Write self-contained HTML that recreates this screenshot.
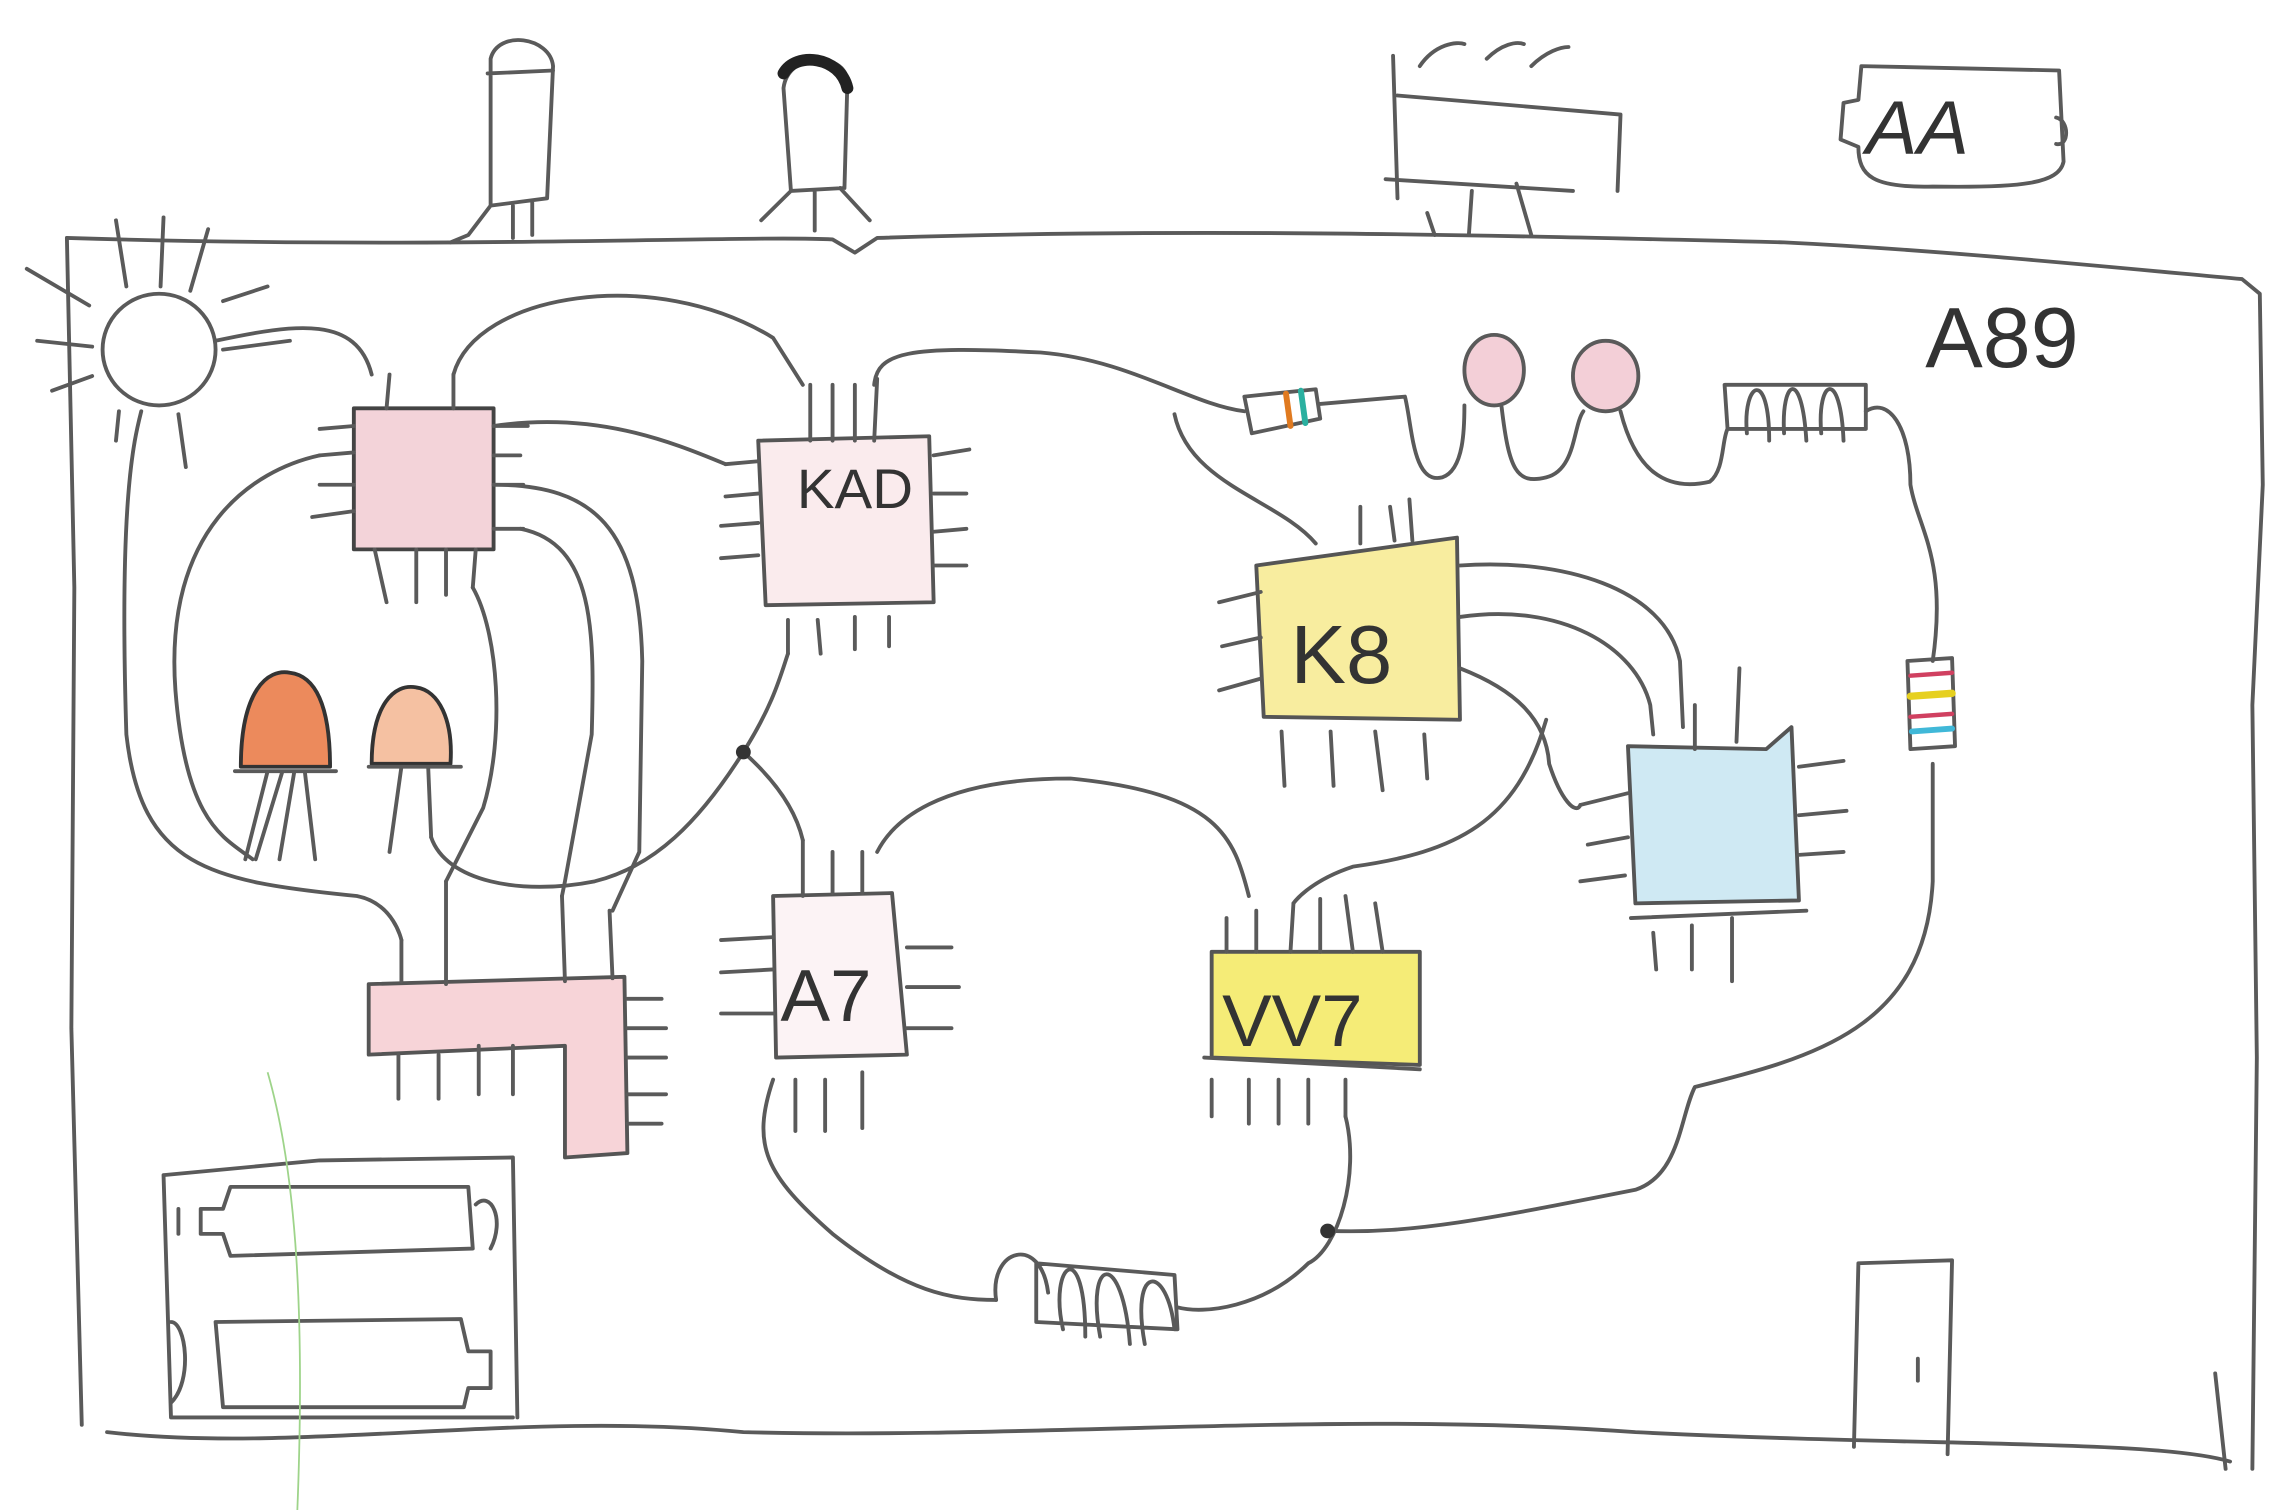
<!DOCTYPE html>
<html><head><meta charset="utf-8"><style>
html,body{margin:0;padding:0;background:#fff;width:2294px;height:1510px;overflow:hidden}
svg{display:block}
text{font-family:"Liberation Sans",sans-serif;fill:#333}
</style></head><body>
<svg width="2294" height="1510" viewBox="0 0 1543 1028" preserveAspectRatio="none" xmlns="http://www.w3.org/2000/svg">
<g fill="none" stroke="#5a5a5a" stroke-width="2.6" stroke-linecap="round" stroke-linejoin="round">
<path d="M45 162 C300 170 500 160 560 163 L575 172 L590 162 C800 155 1000 160 1200 165 C1300 170 1400 180 1508 190 L1520 200 L1522 330 L1515 480 L1518 720 L1515 1000"/>
<path d="M45 162 L50 400 L48 700 L55 970"/>
<path d="M72 975 C200 990 350 960 500 975 C700 980 900 960 1100 975 C1300 985 1450 980 1500 995"/>
<path d="M1490 935 L1497 1000"/>
<circle cx="107" cy="238" r="38"/>
<path d="M18 183 L60 208 M25 232 L62 236 M35 266 L62 256 M78 150 L85 195 M110 148 L108 195 M140 156 L128 198 M150 205 L180 195 M150 238 L195 232 M120 282 L125 318 M80 280 L78 300"/>
<path d="M330 40 C335 20 370 25 372 45 L368 135 L330 140 Z M328 50 L372 48 M330 140 L315 160 L303 165 M345 140 L345 162 M358 138 L358 160"/>
<path d="M527 60 C530 35 568 35 570 55 L568 128 L532 130 Z M532 130 L512 150 M548 130 L548 157 M565 128 L585 150"/>
<path d="M527 50 C535 35 565 38 570 60" stroke="#222" stroke-width="8"/>
<path d="M937 38 L940 135 M940 65 L1090 78 L1088 130 M932 122 L1058 130 M1020 125 L1030 160 M960 145 L965 160 M990 130 L988 160 M955 45 C965 30 980 28 985 30 M1000 40 C1010 30 1020 28 1025 30 M1030 45 C1040 35 1050 32 1055 32"/>
<path d="M1252 45 L1385 48 L1388 110 C1385 125 1360 128 1300 127 C1260 128 1250 120 1250 100 L1238 95 L1240 70 L1250 68 Z"/>
<path d="M1383 80 C1392 82 1392 100 1383 98"/>
<rect x="238" y="278" width="94" height="96" fill="#e8a8b4" fill-opacity="0.5" stroke="#444"/>
<path d="M215 292 L238 290 M215 310 L238 308 M215 330 L238 330 M210 352 L238 348 M332 290 L355 290 M332 310 L350 310 M332 330 L352 330 M332 360 L352 360 M262 255 L260 278 M305 255 L305 278 M252 374 L260 410 M280 374 L280 410 M300 374 L300 405 M320 374 L318 400"/>
<path d="M510 300 L625 297 L628 410 L515 412 Z" fill="#f5d8dc" fill-opacity="0.5" stroke="#555"/>
<path d="M488 316 L510 314 M488 338 L510 336 M485 358 L510 356 M485 380 L510 378 M628 310 L652 306 M628 336 L650 336 M628 362 L650 360 M628 385 L650 385 M545 262 L545 300 M560 262 L560 300 M575 262 L575 300 M590 258 L588 300 M530 422 L530 445 M550 422 L552 445 M575 420 L575 442 M598 420 L598 440"/>
<path d="M845 385 L980 366 L982 490 L850 488 Z" fill="#f5e676" fill-opacity="0.7" stroke="#555"/>
<path d="M820 410 L848 403 M822 440 L848 434 M820 470 L848 462 M915 345 L915 370 M935 345 L938 368 M948 340 L950 368 M862 498 L864 535 M895 498 L897 535 M925 498 L930 538 M958 500 L960 530"/>
<path d="M1095 508 L1188 510 L1205 495 L1210 613 L1100 615 Z" fill="#bfe2ef" fill-opacity="0.75" stroke="#555"/>
<path d="M1063 548 L1095 540 M1068 575 L1095 570 M1063 600 L1093 596 M1210 522 L1240 518 M1210 555 L1242 552 M1210 582 L1240 580 M1097 625 L1215 620 M1112 635 L1114 660 M1138 630 L1138 660 M1165 625 L1165 668 M1140 480 L1140 510 M1170 455 L1168 505"/>
<path d="M520 610 L600 608 L610 718 L522 720 Z" fill="#f5dde2" fill-opacity="0.35" stroke="#555"/>
<path d="M485 640 L520 638 M485 662 L520 660 M485 690 L520 690 M610 645 L640 645 M610 672 L645 672 M610 700 L640 700 M540 572 L540 610 M560 580 L560 608 M580 580 L580 608 M535 735 L535 770 M555 735 L555 770 M580 730 L580 768"/>
<path d="M815 648 L955 648 L955 725 L815 720 Z" fill="#f1e43d" fill-opacity="0.7" stroke="#555"/>
<path d="M810 720 L955 728 M825 625 L825 648 M845 620 L845 648 M870 615 L868 648 M888 612 L888 648 M905 610 L910 648 M925 615 L930 648 M815 735 L815 760 M840 735 L840 765 M860 735 L860 765 M880 735 L880 765 M905 735 L905 760"/>
<path d="M248 670 L420 665 L422 785 L380 788 L380 712 L248 718 Z" fill="#f0b0b8" fill-opacity="0.55" stroke="#555"/>
<path d="M422 680 L445 680 M422 700 L448 700 M422 720 L448 720 M422 745 L448 745 M422 765 L445 765 M268 718 L268 748 M295 718 L295 748 M322 712 L322 745 M345 712 L345 745 M270 640 L270 668 M300 600 L300 670 M378 610 L380 668 M410 620 L412 666"/>
<path d="M162 522 C162 470 180 455 195 458 C212 460 222 480 222 522 Z" fill="#e9753f" fill-opacity="0.85" stroke="#333"/>
<path d="M158 525 L226 525 M180 525 L165 585 M190 525 L172 585 M198 525 L188 585 M205 525 L212 585"/>
<path d="M250 520 C250 480 265 465 280 468 C295 470 305 490 303 520 Z" fill="#f0a070" fill-opacity="0.65" stroke="#333"/>
<path d="M248 522 L310 522 M270 522 L262 580 M288 522 L290 570"/>
<path d="M837 270 L885 265 L888 285 L842 295 Z" fill="#fff"/>
<path d="M865 268 L868 290" stroke="#e07a20" stroke-width="4"/>
<path d="M875 266 L878 288" stroke="#2ab0a0" stroke-width="4"/>
<ellipse cx="1005" cy="252" rx="20" ry="24" fill="#e8a0b0" fill-opacity="0.5"/>
<ellipse cx="1080" cy="256" rx="22" ry="24" fill="#e8a0b0" fill-opacity="0.5"/>
<path d="M1160 262 L1255 262 L1255 292 L1162 292 Z M1175 295 C1172 260 1190 250 1190 300 M1200 295 C1198 258 1212 250 1215 300 M1225 295 C1222 258 1238 250 1240 300"/>
<path d="M1283 450 L1313 448 L1315 508 L1285 510 Z"/>
<path d="M1285 460 L1313 458" stroke="#d04060" stroke-width="3"/>
<path d="M1285 474 L1313 472" stroke="#e6d020" stroke-width="5"/>
<path d="M1285 488 L1313 486" stroke="#d04060" stroke-width="3"/>
<path d="M1286 498 L1313 496" stroke="#40b8d8" stroke-width="4"/>
<path d="M110 800 L215 790 L345 788 L348 965 M110 800 L115 965 L345 965"/>
<path d="M155 808 L315 808 L318 850 L155 855 L150 840 L135 840 L135 823 L150 823 Z M120 823 L120 840 M320 820 C330 810 340 830 330 850"/>
<path d="M145 900 L310 898 L315 920 L330 920 L330 945 L315 945 L312 958 L150 958 Z M115 900 C125 900 130 940 115 955"/>
<path d="M670 885 C665 850 700 840 705 880 M697 860 L790 868 L792 905 L697 900 Z M715 905 C705 860 730 840 730 910 M740 910 C730 855 755 850 760 915 M770 915 C760 860 785 860 790 905"/>
<path d="M1250 860 L1313 858 L1310 990 M1250 860 L1247 985 M1290 925 L1290 940"/>
<path d="M145 232 C200 220 240 215 250 255 M305 255 C320 200 440 180 520 230 L540 262"/>
<path d="M95 280 C90 300 80 340 85 500 C95 590 140 600 240 610 C265 615 270 640 270 640"/>
<path d="M215 310 C170 320 110 360 118 470 C125 560 150 570 170 585"/>
<path d="M332 290 C400 280 450 300 488 316"/>
<path d="M332 330 C400 330 430 360 432 450 L430 580 L412 620"/>
<path d="M350 360 C400 370 400 430 398 500 L380 600 L378 610"/>
<path d="M318 400 C335 430 340 500 325 550 L300 600"/>
<path d="M290 570 C300 600 350 610 400 600 C440 590 470 560 500 512 C520 480 525 460 530 445"/>
<path d="M500 512 C520 530 535 550 540 572"/>
<path d="M588 262 C590 240 610 235 700 240 C760 245 800 275 837 280 M888 275 L945 270 C950 290 950 330 970 325 C985 320 985 290 985 276 M1010 277 C1015 320 1020 330 1040 325 C1060 320 1058 290 1065 280 M1090 280 C1100 320 1120 335 1150 328 C1160 320 1158 300 1162 292 M1255 280 C1270 270 1285 290 1285 330 C1290 360 1310 380 1300 450"/>
<path d="M790 282 C800 330 860 340 885 370"/>
<path d="M982 385 C1050 380 1120 400 1130 450 L1132 495"/>
<path d="M982 420 C1050 410 1100 440 1110 480 L1112 500"/>
<path d="M982 455 C1020 470 1040 490 1042 520 C1050 545 1060 555 1063 548"/>
<path d="M1040 490 C1020 560 980 580 910 590 C880 600 870 615 870 615"/>
<path d="M840 610 C830 570 820 540 720 530 C630 530 600 560 590 580"/>
<path d="M1300 520 L1300 600 C1295 700 1220 720 1140 740 C1130 760 1130 800 1100 810 C1000 830 950 840 895 838"/>
<path d="M905 760 C915 800 900 850 880 860 C850 890 810 895 792 890"/>
<path d="M520 735 C505 780 515 800 560 840 C610 880 640 885 670 885"/>
</g>
<circle cx="500" cy="512" r="5" fill="#333"/>
<circle cx="893" cy="838" r="5" fill="#333"/>
<g fill="#333">
<text x="536" y="346" font-size="38">KAD</text>
<text x="868" y="465" font-size="56">K8</text>
<text x="822" y="712" font-size="50">VV7</text>
<text x="525" y="695" font-size="50">A7</text>
<text x="1255" y="105" font-size="52" font-style="italic">AA</text>
<text x="1295" y="250" font-size="58">A89</text>
</g>
<path d="M180 730 C200 800 205 900 200 1028" stroke="#9ed48a" stroke-width="1.2" fill="none"/>
</svg>
</body></html>
